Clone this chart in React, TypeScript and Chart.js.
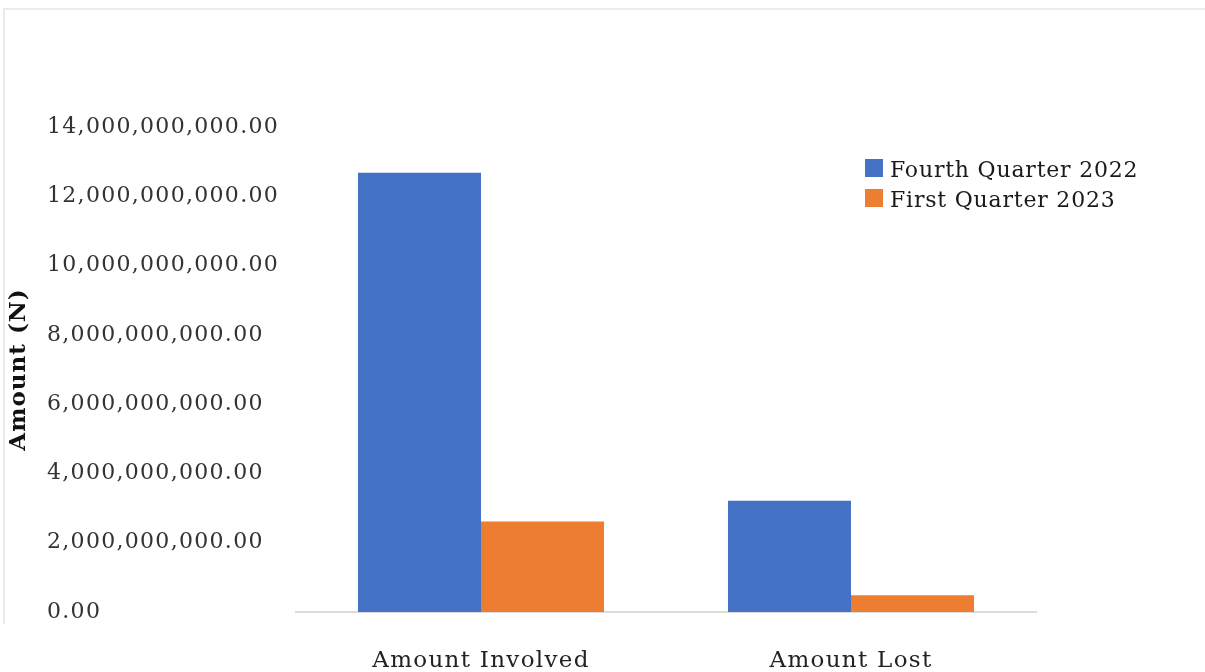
import { useEffect, useRef } from 'react';
import { Chart, registerables } from 'chart.js';

Chart.register(...registerables);

// Fraud amounts by quarter (Naira)
const categories = ['Amount Involved', 'Amount Lost'];
const seriesLabels = ['Fourth Quarter 2022', 'First Quarter 2023'];
const fourthQuarter2022 = [12680000000, 3210000000];
const firstQuarter2023 = [2610000000, 480000000];
const seriesColors = ['#4472C4', '#ED7D31'];
const yTickValues = [0, 2e9, 4e9, 6e9, 8e9, 10e9, 12e9, 14e9];
const yAxisTitle = 'Amount (N)';

const SERIF = '"DejaVu Serif", "Liberation Serif", serif';

const formatAmount = (v: number) =>
  v.toLocaleString('en-US', { minimumFractionDigits: 2, maximumFractionDigits: 2 });

// Extra tracking for the text of each scale
const scaleTextSpacing: Record<string, string> = { x: '1.3px', y: '1.3px', yTitle: '1px' };

const textSpacingPlugin = {
  id: 'textSpacing',
  afterLayout(chart: any) {
    Object.values(chart.scales).forEach((scale: any) => {
      if (scale.__spaced) return;
      const spacing = scaleTextSpacing[scale.id] || '0px';
      ['drawLabels', 'drawTitle'].forEach((fn) => {
        const original = scale[fn];
        scale[fn] = function (...args: any[]) {
          const ctx = this.ctx;
          const prev = ctx.letterSpacing;
          ctx.letterSpacing = spacing;
          original.apply(this, args);
          ctx.letterSpacing = prev;
        };
      });
      scale.__spaced = true;
    });
  },
};

// Square-swatch legend drawn to the upper right of the bars
const boxLegendPlugin = {
  id: 'boxLegend',
  afterDraw(chart: any) {
    const { ctx } = chart;
    ctx.save();
    ctx.letterSpacing = '0.8px';
    ctx.font = `22px ${SERIF}`;
    ctx.textAlign = 'left';
    ctx.textBaseline = 'alphabetic';
    chart.data.datasets.forEach((ds: any, i: number) => {
      const top = 159 + i * 30;
      ctx.fillStyle = ds.backgroundColor;
      ctx.fillRect(865, top, 18, 18);
      ctx.fillStyle = '#1a1a1a';
      ctx.fillText(ds.label, 890, top + 18);
    });
    ctx.restore();
  },
};

export default function App() {
  const canvasRef = useRef<HTMLCanvasElement | null>(null);

  useEffect(() => {
    if (!canvasRef.current) return;
    const chart = new Chart(canvasRef.current, {
      type: 'bar',
      data: {
        labels: categories,
        datasets: [
          {
            label: seriesLabels[0],
            data: fourthQuarter2022,
            backgroundColor: seriesColors[0],
            categoryPercentage: 0.665,
            barPercentage: 1,
          },
          {
            label: seriesLabels[1],
            data: firstQuarter2023,
            backgroundColor: seriesColors[1],
            categoryPercentage: 0.665,
            barPercentage: 1,
          },
        ],
      },
      options: {
        responsive: false,
        animation: false,
        events: [],
        layout: { padding: { left: 0, top: 127, right: 169, bottom: 0 } },
        plugins: {
          legend: { display: false },
          tooltip: { enabled: false },
        },
        scales: {
          x: {
            grid: { display: false },
            border: { display: true, color: '#dcdcdc', width: 2 },
            ticks: {
              font: { family: SERIF, size: 23 },
              color: '#222',
              padding: 27,
              maxRotation: 0,
              autoSkip: false,
            },
            afterFit: (s: any) => {
              s.height = 60;
            },
          },
          y: {
            position: 'left',
            min: 0,
            max: 14e9,
            afterBuildTicks: (s: any) => {
              s.ticks = yTickValues.map((value) => ({ value }));
            },
            grid: { display: false },
            border: { display: false },
            ticks: {
              crossAlign: 'far',
              font: { family: SERIF, size: 22 },
              color: '#333',
              callback: (v: any) => formatAmount(Number(v)),
            },
            afterFit: (s: any) => {
              s.width = 249;
            },
          },
          yTitle: {
            type: 'linear',
            position: 'left',
            weight: 1,
            grid: { display: false },
            border: { display: false },
            ticks: { display: false },
            title: {
              display: true,
              text: yAxisTitle,
              color: '#111',
              font: { family: SERIF, size: 23, weight: 'bold' },
              padding: { top: 5, bottom: 0 },
            },
            afterFit: (s: any) => {
              s.width = 47;
            },
          },
        },
      },
      plugins: [textSpacingPlugin, boxLegendPlugin],
    } as any);
    return () => chart.destroy();
  }, []);

  return (
    <div
      style={{
        position: 'absolute',
        left: 0,
        top: 0,
        width: 1205,
        height: 672,
        background: '#fff',
        overflow: 'hidden',
      }}
    >
      <canvas
        ref={canvasRef}
        width={1205}
        height={672}
        style={{ position: 'absolute', left: 0, top: 0, width: 1205, height: 672 }}
      />
      <div
        style={{
          position: 'absolute',
          left: 3,
          top: 8,
          width: 1220,
          height: 614,
          borderTop: '2px solid #ebebeb',
          borderLeft: '2px solid #ebebeb',
          pointerEvents: 'none',
        }}
      />
    </div>
  );
}
